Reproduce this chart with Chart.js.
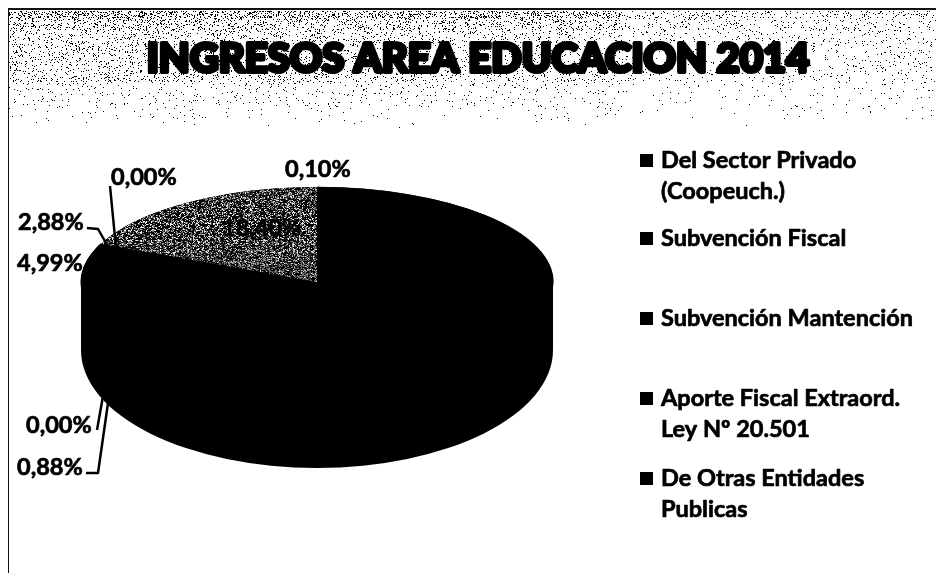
<!DOCTYPE html>
<html><head><meta charset="utf-8">
<style>html,body{margin:0;padding:0;background:#fff;width:936px;height:573px;overflow:hidden}canvas{display:block}</style>
<script src="https://cdn.jsdelivr.net/npm/chart.js@4"></script></head>
<body><canvas id="c" width="936" height="573"></canvas>
<script>
const titleText = "INGRESOS AREA EDUCACION 2014";
const categories = ["Del Sector Privado (Coopeuch.)","Subvención Fiscal","Subvención Mantención","Aporte Fiscal Extraord. Ley Nº 20.501","De Otras Entidades Publicas","Serie 6","Serie 7","Serie 8"];
const values = [0.10,72.75,0.88,0.00,4.99,2.88,0.00,18.40];
const valueLabels = ["0,10%","72,75%","0,88%","0,00%","4,99%","2,88%","0,00%","18,40%"];
const sliceColors = ["#000","#000","#000","#000","#000","#000","#000","grey"];
const legendLines = [["Del Sector Privado","(Coopeuch.)"],["Subvención Fiscal"],["Subvención Mantención"],["Aporte Fiscal Extraord.","Ley Nº 20.501"],["De Otras Entidades","Publicas"]];

const CX=317, CY=282, RX=236, RY=95, DEPTH=68, RY2=118;
function hash(x,y){let h=(x*374761393+y*668265263)|0;h=(h^(h>>>13))*1274126177|0;return ((h^(h>>>16))>>>0)/4294967296;}
let pat=null;
function speckle(density){
  if(pat) return pat;
  const c=document.createElement('canvas');c.width=c.height=128;const g=c.getContext('2d');
  g.fillStyle='#fff';g.fillRect(0,0,128,128);g.fillStyle='#000';
  for(let y=0;y<128;y++)for(let x=0;x<128;x++)if(hash(x,y)<density)g.fillRect(x,y,1,1);
  return pat=g.createPattern(c,'repeat');
}
const threeD={id:'threeD',
  beforeDraw(ch){
    const g=ch.ctx;g.save();g.fillStyle='#fff';g.fillRect(0,0,936,573);
    g.fillStyle='#000';
    for(let y=11;y<128;y++){
      const d=y<18?0.26:y<30?0.16:y<82?0.1:0.1*(128-y)/46*0.45;
      for(let x=9;x<936;x++){
        const w=x<330?1:x<620?0.85:0.4;
        if(hash(x,y)<d*w) g.fillRect(x,y,1,1);
      }
    }
    g.fillStyle='#111';g.fillRect(8,8,928,2);g.fillRect(8,8,1,565);
    g.restore();
  },
  beforeDatasetDraw(ch){
    const g=ch.ctx,a=ch.getDatasetMeta(0).data[0];
    const s=RY/a.outerRadius, k=RX/a.outerRadius;
    g.save();g.fillStyle='#000';
    g.beginPath();g.ellipse(CX,CY,RX,RY,0,Math.PI,0);g.lineTo(CX+RX,CY+DEPTH);
    g.ellipse(CX,CY+DEPTH,RX,RY2,0,0,Math.PI);g.closePath();g.fill();
    g.restore();
    g.save();g.translate(CX,CY);g.scale(k,s);g.translate(-a.x,-a.y);
  },
  afterDatasetDraw(ch){ch.ctx.restore();},
  afterDatasetsDraw(ch){
    const g=ch.ctx;
    g.save();
    g.fillStyle='#000';g.strokeStyle='#000';g.textBaseline='middle';
    g.font='900 40px Lato';g.textAlign='center';g.lineWidth=4;g.lineJoin='round';
    g.strokeText(titleText,478,59);
    g.fillText(titleText,478,59);
    g.font='bold 23.5px Lato';g.textAlign='left';
    const pos={0:[285,169],1:[330,340],2:[17,467],3:[26,425],4:[17,263],5:[18,222],6:[111,177],7:[222,228]};
    const lead={2:[[86,473],[98,473],[108,403]],3:[[97,430],[103,396]],5:[[87,228],[98,229],[110,250]],6:[[110,186],[116,248]]};
    for(const i in pos){
      g.lineWidth=0.7;
      g.fillText(valueLabels[i],pos[i][0],pos[i][1]);g.strokeText(valueLabels[i],pos[i][0],pos[i][1]);
      if(lead[i]){g.lineWidth=2.5;g.beginPath();lead[i].forEach((p,n)=>n?g.lineTo(p[0],p[1]):g.moveTo(p[0],p[1]));g.stroke();}
    }
    const ys=[160,238,318,398,478];
    g.lineWidth=0.7;
    legendLines.forEach((ls,i)=>{
      g.fillRect(640,ys[i]-6,13,13);
      ls.forEach((t,n)=>{g.fillText(t,661,ys[i]+n*31);g.strokeText(t,661,ys[i]+n*31);});
    });
    g.restore();
  }
};
new Chart(document.getElementById('c'),{type:'pie',
  data:{labels:categories,datasets:[{data:values,
    borderWidth:(c)=>sliceColors[c.dataIndex]==='grey'?0:1.5,
    borderColor:'#000',
    backgroundColor:(c)=>sliceColors[c.dataIndex]==='grey'?speckle(0.72):sliceColors[c.dataIndex]}]},
  options:{responsive:false,animation:false,plugins:{legend:{display:false},tooltip:{enabled:false}}},
  plugins:[threeD]});
</script></body></html>
